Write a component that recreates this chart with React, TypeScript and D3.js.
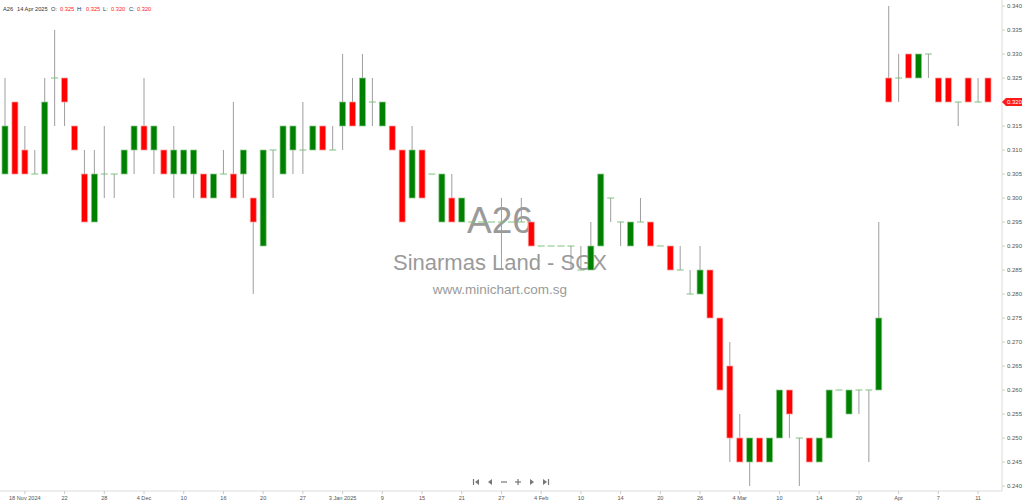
import React from 'react';
import * as d3 from 'd3';

const dates = [
  '2024-11-14', '2024-11-15', '2024-11-18', '2024-11-19', '2024-11-20', '2024-11-21', '2024-11-22',
  '2024-11-25', '2024-11-26', '2024-11-27', '2024-11-28', '2024-11-29',
  '2024-12-02', '2024-12-03', '2024-12-04', '2024-12-05', '2024-12-06', '2024-12-09', '2024-12-10',
  '2024-12-11', '2024-12-12', '2024-12-13', '2024-12-16', '2024-12-17', '2024-12-18', '2024-12-19',
  '2024-12-20', '2024-12-23', '2024-12-24', '2024-12-26', '2024-12-27', '2024-12-30', '2024-12-31',
  '2025-01-02', '2025-01-03', '2025-01-06', '2025-01-07', '2025-01-08', '2025-01-09', '2025-01-10',
  '2025-01-13', '2025-01-14', '2025-01-15', '2025-01-16', '2025-01-17', '2025-01-20', '2025-01-21',
  '2025-01-22', '2025-01-23', '2025-01-24', '2025-01-27', '2025-01-28', '2025-01-31',
  '2025-02-03', '2025-02-04', '2025-02-05', '2025-02-06', '2025-02-07', '2025-02-10', '2025-02-11',
  '2025-02-12', '2025-02-13', '2025-02-14', '2025-02-17', '2025-02-18', '2025-02-19', '2025-02-20',
  '2025-02-21', '2025-02-24', '2025-02-25', '2025-02-26', '2025-02-27', '2025-02-28',
  '2025-03-03', '2025-03-04', '2025-03-05', '2025-03-06', '2025-03-07', '2025-03-10', '2025-03-11',
  '2025-03-12', '2025-03-13', '2025-03-14', '2025-03-17', '2025-03-18', '2025-03-19', '2025-03-20',
  '2025-03-21', '2025-03-24', '2025-03-28',
  '2025-04-01', '2025-04-02', '2025-04-03', '2025-04-04', '2025-04-07', '2025-04-08', '2025-04-09',
  '2025-04-10', '2025-04-11', '2025-04-14',
];

const opens = [
  0.305, 0.320, 0.310, 0.305, 0.305, 0.325, 0.325, 0.315, 0.305, 0.295, 0.305, 0.305,
  0.305, 0.310, 0.315, 0.310, 0.310, 0.305, 0.305, 0.305, 0.305, 0.300, 0.305, 0.305, 0.305, 0.300,
  0.290, 0.310, 0.305, 0.310, 0.310, 0.310, 0.315,
  0.310, 0.315, 0.320, 0.315, 0.320, 0.315, 0.315, 0.310, 0.300, 0.310, 0.305, 0.295, 0.300, 0.295,
  0.295, 0.295, 0.295, 0.295, 0.295, 0.295,
  0.295, 0.290, 0.290, 0.290, 0.290, 0.285, 0.285, 0.290, 0.300, 0.295, 0.290, 0.295, 0.295, 0.290,
  0.290, 0.285, 0.280, 0.280, 0.285, 0.275,
  0.265, 0.250, 0.245, 0.250, 0.245, 0.250, 0.260, 0.250, 0.250, 0.245, 0.250, 0.260, 0.255, 0.260,
  0.260, 0.260, 0.325,
  0.325, 0.330, 0.325, 0.330, 0.325, 0.325, 0.320, 0.325, 0.320, 0.325,
];

const highs = [
  0.325, 0.320, 0.315, 0.310, 0.325, 0.335, 0.325, 0.315, 0.310, 0.310, 0.315, 0.305,
  0.310, 0.315, 0.325, 0.315, 0.310, 0.315, 0.310, 0.310, 0.305, 0.305, 0.310, 0.320, 0.310, 0.300,
  0.310, 0.310, 0.315, 0.315, 0.320, 0.315, 0.315,
  0.315, 0.330, 0.325, 0.330, 0.325, 0.320, 0.315, 0.310, 0.315, 0.310, 0.305, 0.305, 0.305, 0.300,
  0.295, 0.295, 0.295, 0.300, 0.295, 0.300,
  0.295, 0.290, 0.290, 0.290, 0.290, 0.290, 0.295, 0.305, 0.300, 0.295, 0.295, 0.300, 0.295, 0.290,
  0.290, 0.290, 0.285, 0.290, 0.285, 0.275,
  0.270, 0.255, 0.250, 0.250, 0.250, 0.260, 0.260, 0.250, 0.250, 0.250, 0.260, 0.260, 0.260, 0.260,
  0.260, 0.295, 0.340,
  0.330, 0.330, 0.330, 0.330, 0.325, 0.325, 0.320, 0.325, 0.325, 0.325,
];

const lows = [
  0.305, 0.305, 0.305, 0.305, 0.305, 0.315, 0.315, 0.310, 0.295, 0.295, 0.300, 0.300,
  0.305, 0.305, 0.310, 0.305, 0.305, 0.300, 0.305, 0.300, 0.300, 0.300, 0.305, 0.300, 0.300, 0.280,
  0.290, 0.300, 0.305, 0.305, 0.305, 0.310, 0.310,
  0.310, 0.310, 0.315, 0.315, 0.315, 0.315, 0.310, 0.295, 0.300, 0.300, 0.305, 0.295, 0.295, 0.295,
  0.295, 0.295, 0.295, 0.285, 0.295, 0.295,
  0.290, 0.290, 0.290, 0.290, 0.285, 0.285, 0.285, 0.290, 0.295, 0.290, 0.290, 0.295, 0.290, 0.290,
  0.285, 0.285, 0.280, 0.280, 0.275, 0.260,
  0.245, 0.245, 0.240, 0.245, 0.245, 0.250, 0.250, 0.240, 0.245, 0.245, 0.250, 0.260, 0.255, 0.255,
  0.245, 0.260, 0.320,
  0.320, 0.325, 0.325, 0.325, 0.320, 0.320, 0.315, 0.320, 0.320, 0.320,
];

const closes = [
  0.315, 0.305, 0.305, 0.305, 0.320, 0.325, 0.320, 0.310, 0.295, 0.305, 0.305, 0.305,
  0.310, 0.315, 0.310, 0.315, 0.305, 0.310, 0.310, 0.310, 0.300, 0.305, 0.305, 0.300, 0.310, 0.295,
  0.310, 0.310, 0.315, 0.315, 0.310, 0.315, 0.310,
  0.310, 0.320, 0.315, 0.325, 0.320, 0.320, 0.310, 0.295, 0.310, 0.300, 0.305, 0.305, 0.295, 0.300,
  0.295, 0.295, 0.295, 0.295, 0.295, 0.295,
  0.290, 0.290, 0.290, 0.290, 0.290, 0.285, 0.290, 0.305, 0.300, 0.295, 0.295, 0.295, 0.290, 0.290,
  0.285, 0.285, 0.280, 0.285, 0.275, 0.260,
  0.250, 0.245, 0.250, 0.245, 0.250, 0.260, 0.255, 0.250, 0.245, 0.250, 0.260, 0.260, 0.260, 0.260,
  0.260, 0.275, 0.320,
  0.325, 0.325, 0.330, 0.330, 0.320, 0.320, 0.320, 0.320, 0.320, 0.320,
];

const tickDates = [
  '2024-11-18', '2024-11-22', '2024-11-28', '2024-12-04', '2024-12-10', '2024-12-16', '2024-12-20',
  '2024-12-27', '2025-01-03', '2025-01-09', '2025-01-15', '2025-01-21', '2025-01-27', '2025-02-04',
  '2025-02-10', '2025-02-14', '2025-02-20', '2025-02-26', '2025-03-04', '2025-03-10', '2025-03-14',
  '2025-03-20', '2025-04-01', '2025-04-07', '2025-04-11',
];
const tickLabels = [
  '18 Nov 2024', '22', '28', '4 Dec', '10', '16', '20', '27', '3 Jan 2025', '9', '15', '21', '27',
  '4 Feb', '10', '14', '20', '26', '4 Mar', '10', '14', '20', 'Apr', '7', '11',
];

const symbol = 'A26';
const companyName = 'Sinarmas Land - SGX';
const site = 'www.minichart.com.sg';
const lastLabel = '14 Apr 2025';

const W = 1024;
const H = 502;
const axisX = 1002;
const axisY = 491;
const font = '"Liberation Sans", Arial, sans-serif';

export default function App() {
  const x = d3.scalePoint<string>().domain(dates).range([5, 988]);
  const y = d3.scaleLinear().domain([0.24, 0.34]).range([486, 6]);
  const bodyW = 6;
  const fmt = d3.format('.3f');
  const last = dates.length - 1;

  const candles = dates.map((d, i) => ({
    d,
    o: opens[i],
    h: highs[i],
    l: lows[i],
    c: closes[i],
  }));

  const yTicks = y.ticks(20);

  // header line: label/value pairs with their left edges
  const header: { t: string; col: string; at: number }[] = [
    { t: symbol, col: '#333', at: 3 },
    { t: lastLabel, col: '#333', at: 17 },
    { t: 'O:', col: '#333', at: 51 },
    { t: fmt(opens[last]), col: '#ff2020', at: 60 },
    { t: 'H:', col: '#333', at: 77 },
    { t: fmt(highs[last]), col: '#ff2020', at: 86 },
    { t: 'L:', col: '#333', at: 103 },
    { t: fmt(lows[last]), col: '#ff2020', at: 111 },
    { t: 'C:', col: '#333', at: 129 },
    { t: fmt(closes[last]), col: '#ff2020', at: 137 },
  ];

  const lastY = y(closes[last]);
  const navY = 482;

  return (
    <svg
      width={W}
      height={H}
      style={{ position: 'absolute', left: 0, top: 0, background: '#fff' }}
      fontFamily={font}
    >
      {/* watermark */}
      <g fill="#9a9a9a" textAnchor="middle">
        <text x={500} y={233} fontSize={37}>{symbol}</text>
        <text x={500} y={270} fontSize={22}>{companyName}</text>
        <text x={500} y={294} fontSize={13.5}>{site}</text>
      </g>

      {/* axes */}
      <line x1={0} x2={axisX} y1={axisY} y2={axisY} stroke="#dcdcdc" />
      <line x1={axisX} x2={axisX} y1={0} y2={axisY} stroke="#dcdcdc" />
      {yTicks.map((t) => (
        <g key={t}>
          <line x1={axisX} x2={axisX + 3} y1={y(t)} y2={y(t)} stroke="#ccc" />
          <text x={axisX + 5} y={y(t) + 2} fontSize={6} fill="#555">
            {fmt(t)}
          </text>
        </g>
      ))}
      {tickDates.map((d, i) => (
        <g key={d}>
          <line x1={x(d)} x2={x(d)} y1={axisY} y2={axisY + 3} stroke="#ccc" />
          <text x={x(d)} y={500} fontSize={5.6} fill="#555" textAnchor="middle">
            {tickLabels[i]}
          </text>
        </g>
      ))}

      {/* candles */}
      {candles.map((k) => {
        const cx = x(k.d) as number;
        const flat = k.o === k.c;
        const up = k.c > k.o;
        const top = y(Math.max(k.o, k.c));
        const bot = y(Math.min(k.o, k.c));
        return (
          <g key={k.d}>
            {k.h > Math.max(k.o, k.c) && (
              <line x1={cx} x2={cx} y1={y(k.h)} y2={top} stroke="#9e9e9e" />
            )}
            {k.l < Math.min(k.o, k.c) && (
              <line x1={cx} x2={cx} y1={bot} y2={y(k.l)} stroke="#9e9e9e" />
            )}
            {flat ? (
              <line
                x1={cx - bodyW / 2 - 0.5}
                x2={cx + bodyW / 2 + 0.5}
                y1={top}
                y2={top}
                stroke="#7cc27c"
              />
            ) : (
              <rect
                x={cx - bodyW / 2}
                y={top}
                width={bodyW}
                height={bot - top}
                fill={up ? '#008000' : '#ff0000'}
                stroke={up ? '#8cc98c' : '#ff9c9c'}
                strokeWidth={0.7}
              />
            )}
          </g>
        );
      })}

      {/* last price tag */}
      <path
        d={`M${axisX},${lastY} L${axisX + 4},${lastY - 4} H${W - 2} V${lastY + 4} H${axisX + 4} Z`}
        fill="#ff1a1a"
      />
      <text x={axisX + 5} y={lastY + 2.2} fontSize={6} fill="#fff">
        {fmt(closes[last])}
      </text>

      {/* header */}
      {header.map((h, i) => (
        <text key={i} x={h.at} y={10.5} fontSize={5.7} fill={h.col}>
          {h.t}
        </text>
      ))}

      {/* navigation buttons */}
      <g fill="#777" stroke="#777">
        <line x1={473.5} x2={473.5} y1={navY - 3} y2={navY + 3} strokeWidth={1.2} />
        <path d={`M479,${navY - 3} L475,${navY} L479,${navY + 3} Z`} stroke="none" />
        <path d={`M492,${navY - 3} L488,${navY} L492,${navY + 3} Z`} stroke="none" />
        <line x1={501} x2={507} y1={navY} y2={navY} strokeWidth={1.2} />
        <line x1={515} x2={521} y1={navY} y2={navY} strokeWidth={1.2} />
        <line x1={518} x2={518} y1={navY - 3} y2={navY + 3} strokeWidth={1.2} />
        <path d={`M530,${navY - 3} L534,${navY} L530,${navY + 3} Z`} stroke="none" />
        <path d={`M543,${navY - 3} L547,${navY} L543,${navY + 3} Z`} stroke="none" />
        <line x1={548.5} x2={548.5} y1={navY - 3} y2={navY + 3} strokeWidth={1.2} />
      </g>
    </svg>
  );
}
